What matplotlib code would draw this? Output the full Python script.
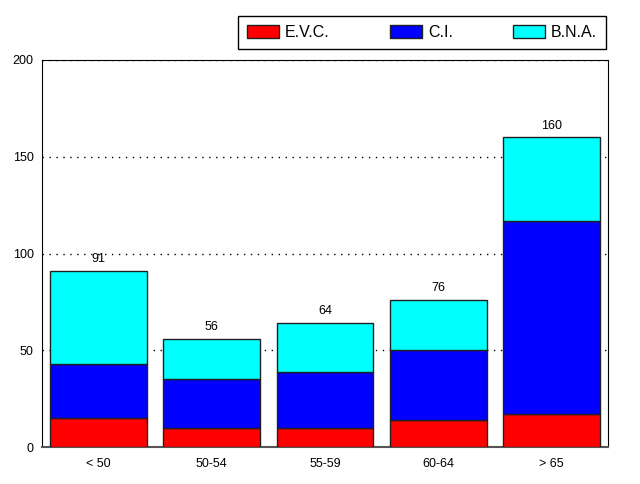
import matplotlib
matplotlib.use('Agg')
import matplotlib.pyplot as plt
import numpy as np

# --- data -------------------------------------------------------------------
categories = ["< 50", "50-54", "55-59", "60-64", "> 65"]
evc = [15, 10, 10, 14, 17]
ci = [28, 25, 29, 36, 100]
bna = [48, 21, 25, 26, 43]
series_names = ["E.V.C.", "C.I.", "B.N.A."]
series_colors = ["#ff0000", "#0000ff", "#00ffff"]

plt.rcParams['font.family'] = ['Liberation Sans', 'DejaVu Sans']

fig = plt.figure(figsize=(6.4, 4.84), dpi=100)
fig.patch.set_facecolor('white')
ax = fig.add_axes([42 / 640, 1 - 447 / 484, 566 / 640, 387 / 484])

x = np.arange(len(categories))
bottom = np.zeros(len(categories))
handles = []
for vals, name, col in zip([evc, ci, bna], series_names, series_colors):
    b = ax.bar(x, vals, bottom=bottom, width=0.855, color=col,
               edgecolor='#202020', linewidth=1.0, label=name, zorder=3)
    handles.append(b)
    bottom += np.array(vals)

# totals above the bars
for xi, tot in zip(x, bottom):
    ax.text(xi, tot + 3, f"{int(tot)}", ha='center', va='bottom',
            fontsize=9, color='black')

ax.set_xlim(-0.5, 4.5)
ax.set_ylim(0, 200)
ax.set_yticks([0, 50, 100, 150, 200])
ax.set_xticks(x)
ax.set_xticklabels(categories)
ax.tick_params(axis='both', length=0, labelsize=9, colors='black')
ax.tick_params(axis='x', pad=8)
ax.tick_params(axis='y', pad=6)
ax.yaxis.grid(True, color='black', linestyle=(0, (1, 4)), linewidth=1.0)
ax.set_axisbelow(True)
for side in ['top', 'right', 'left']:
    ax.spines[side].set_color('black')
ax.spines['bottom'].set_color('#555555')
ax.spines['bottom'].set_linewidth(1.5)

# legend box spans the same strip as in the reference
leg = fig.legend(handles=handles, labels=series_names, ncol=3,
                 bbox_to_anchor=(238 / 640, 1 - 50 / 484, 368 / 640, 35 / 484),
                 mode='expand', loc='center', fontsize=11.5, fancybox=False,
                 edgecolor='black', framealpha=1, handlelength=2.0,
                 handleheight=0.8, handletextpad=0.4, borderpad=0.55,
                 borderaxespad=0)
leg.get_frame().set_linewidth(1.0)

fig.savefig('out.png', dpi=100)
